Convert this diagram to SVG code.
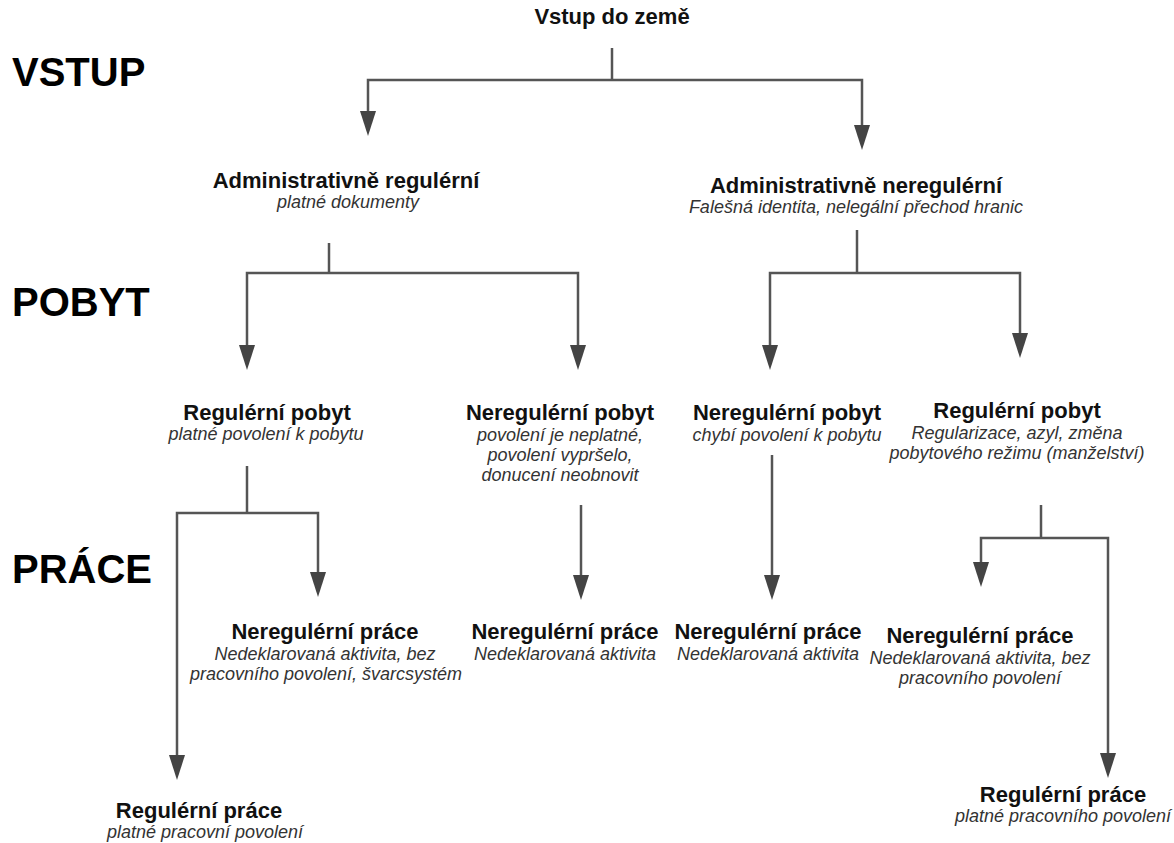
<svg xmlns="http://www.w3.org/2000/svg" width="1174" height="843" viewBox="0 0 1174 843">
<style>
.sec{font-family:"Liberation Sans",Arial,sans-serif;font-weight:bold;font-size:40px;fill:#000}
.t{font-family:"Liberation Sans",Arial,sans-serif;font-weight:bold;font-size:22px;fill:#111;text-anchor:middle}
.s{font-family:"Liberation Sans",Arial,sans-serif;font-style:italic;font-size:18px;fill:#333;text-anchor:middle}
.c{fill:none;stroke:#555;stroke-width:2.5}
.ah{fill:#444}
</style>
<rect width="1174" height="843" fill="#fff"/>
<g id="sections">
<text class="sec" x="12" y="86">VSTUP</text>
<text class="sec" x="12" y="316">POBYT</text>
<text class="sec" x="12" y="583">PRÁCE</text>
</g>
<g id="connectors">
<path class="c" d="M612,48 V80"/>
<path class="c" d="M612,80 H368 V112"/>
<path class="c" d="M612,80 H862 V126"/>
<path class="c" d="M329,243 V273"/>
<path class="c" d="M329,273 H247 V346"/>
<path class="c" d="M329,273 H578 V346"/>
<path class="c" d="M857,230 V273"/>
<path class="c" d="M857,273 H770 V346"/>
<path class="c" d="M857,273 H1020 V334"/>
<path class="c" d="M247,466 V513"/>
<path class="c" d="M247,513 H177 V756"/>
<path class="c" d="M247,513 H318 V573"/>
<path class="c" d="M581,505 V576"/>
<path class="c" d="M772,455 V576"/>
<path class="c" d="M1041,505 V538"/>
<path class="c" d="M1041,538 H981 V563"/>
<path class="c" d="M1041,538 H1108 V754"/>
<path class="ah" d="M360,111 L376,111 L368,136 Z"/>
<path class="ah" d="M854,125 L870,125 L862,150 Z"/>
<path class="ah" d="M239,345 L255,345 L247,370 Z"/>
<path class="ah" d="M570,345 L586,345 L578,370 Z"/>
<path class="ah" d="M762,345 L778,345 L770,370 Z"/>
<path class="ah" d="M1012,333 L1028,333 L1020,358 Z"/>
<path class="ah" d="M169,755 L185,755 L177,780 Z"/>
<path class="ah" d="M310,572 L326,572 L318,597 Z"/>
<path class="ah" d="M573,575 L589,575 L581,600 Z"/>
<path class="ah" d="M764,575 L780,575 L772,600 Z"/>
<path class="ah" d="M973,562 L989,562 L981,587 Z"/>
<path class="ah" d="M1100,753 L1116,753 L1108,778 Z"/>
</g>
<g id="n_vstup"><text class="t" x="612" y="24">Vstup do země</text></g>
<g id="n_admreg">
<text class="t" x="346" y="188">Administrativně regulérní</text>
<text class="s" x="348" y="208">platné dokumenty</text>
</g>
<g id="n_admnereg">
<text class="t" x="856" y="193">Administrativně neregulérní</text>
<text class="s" x="856" y="213">Falešná identita, nelegální přechod hranic</text>
</g>
<g id="n_regpobyt1">
<text class="t" x="267" y="420">Regulérní pobyt</text>
<text class="s" x="266" y="440">platné povolení k pobytu</text>
</g>
<g id="n_neregpobyt1">
<text class="t" x="560" y="420">Neregulérní pobyt</text>
<text class="s" x="560" y="441">povolení je neplatné,</text>
<text class="s" x="560" y="461">povolení vypršelo,</text>
<text class="s" x="560" y="481">donucení neobnovit</text>
</g>
<g id="n_neregpobyt2">
<text class="t" x="787" y="420">Neregulérní pobyt</text>
<text class="s" x="787" y="441">chybí povolení k pobytu</text>
</g>
<g id="n_regpobyt2">
<text class="t" x="1017" y="418">Regulérní pobyt</text>
<text class="s" x="1017" y="439">Regularizace, azyl, změna</text>
<text class="s" x="1017" y="459">pobytového režimu (manželství)</text>
</g>
<g id="n_neregprace1">
<text class="t" x="325" y="639">Neregulérní práce</text>
<text class="s" x="325" y="660">Nedeklarovaná aktivita, bez</text>
<text class="s" x="326" y="680">pracovního povolení, švarcsystém</text>
</g>
<g id="n_neregprace2">
<text class="t" x="565" y="639">Neregulérní práce</text>
<text class="s" x="565" y="660">Nedeklarovaná aktivita</text>
</g>
<g id="n_neregprace3">
<text class="t" x="768" y="639">Neregulérní práce</text>
<text class="s" x="768" y="660">Nedeklarovaná aktivita</text>
</g>
<g id="n_neregprace4">
<text class="t" x="980" y="643">Neregulérní práce</text>
<text class="s" x="980" y="664">Nedeklarovaná aktivita, bez</text>
<text class="s" x="980" y="684">pracovního povolení</text>
</g>
<g id="n_regprace1">
<text class="t" x="199" y="818">Regulérní práce</text>
<text class="s" x="205" y="838">platné pracovní povolení</text>
</g>
<g id="n_regprace2">
<text class="t" x="1063" y="802">Regulérní práce</text>
<text class="s" x="1063" y="822">platné pracovního povolení</text>
</g>
</svg>
